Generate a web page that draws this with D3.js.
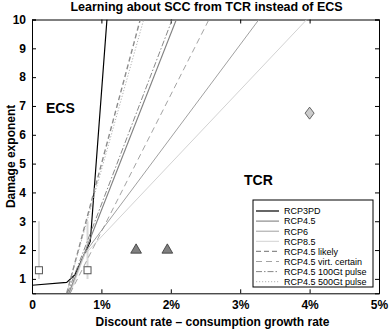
<!DOCTYPE html>
<html>
<head>
<meta charset="utf-8">
<script src="https://cdn.jsdelivr.net/npm/d3@7"></script>
<style>
body { margin: 0; background: #fff; }
text { font-family: "Liberation Sans", Arial, sans-serif; }
</style>
</head>
<body>
<div id="chart"></div>
<script>
// series, x in % (discount rate - growth rate), y = damage exponent
var seriesNames = ["RCP3PD", "RCP4.5", "RCP6", "RCP8.5", "RCP4.5 likely",
                   "RCP4.5 virt. certain", "RCP4.5 100Gt pulse", "RCP4.5 500Gt pulse"];
var seriesX = [
  [0, 0.5, 0.62, 0.84, 1.08],
  [0.53, 2.08],
  [0.54, 0.76, 3.27],
  [0.55, 0.76, 3.96],
  [0.50, 1.56],
  [0.55, 2.55],
  [0.51, 2.02],
  [0.50, 1.61]
];
var seriesY = [
  [0.78, 0.88, 1.15, 2.3, 10],
  [0.5, 10],
  [0.5, 1.9, 10],
  [0.5, 1.85, 10],
  [0.5, 10],
  [0.5, 10],
  [0.5, 10],
  [0.5, 10]
];
var squareX = [0.1, 0.8];
var squareY = [1.3, 1.3];
var barLow = [1.0, 1.0];
var barHigh = [3.0, 3.0];
var triangleX = [1.5, 1.95];
var triangleY = [2.0, 2.0];
var diamondX = [4.0];
var diamondY = [6.75];
var xTicks = [0, 1, 2, 3, 4, 5];
var yTicks = [1, 2, 3, 4, 5, 6, 7, 8, 9, 10];

// line looks
var lineStyles = [
  {color: "#000", width: 1.2, dash: null},
  {color: "#808080", width: 1.1, dash: null},
  {color: "#a0a0a0", width: 1, dash: null},
  {color: "#d2d2d2", width: 1, dash: null},
  {color: "#8c8c8c", width: 1.4, dash: "5,3"},
  {color: "#8c8c8c", width: 0.8, dash: "6,4"},
  {color: "#7a7a7a", width: 0.9, dash: "6,2,1.5,2"},
  {color: "#a8a8a8", width: 0.9, dash: "1.2,1.8"}
];

var chart_width = 389, chart_height = 329;
var plot_left = 32, plot_right = 379, plot_top = 19.5, plot_bottom = 293.3;

var svg = d3.select("#chart")
            .append("svg")
            .attr("width", chart_width)
            .attr("height", chart_height);

var x = d3.scaleLinear().domain([0, 5]).range([plot_left, plot_right]);
var y = d3.scaleLinear().domain([0.5, 10]).range([plot_bottom, plot_top]);

svg.append("defs").append("clipPath").attr("id", "plot")
   .append("rect")
   .attr("x", plot_left).attr("y", plot_top)
   .attr("width", plot_right - plot_left).attr("height", plot_bottom - plot_top);

// axes, ticks inside like matlab
var tickLen = 4;
svg.append("g")
   .attr("transform", "translate(0," + plot_bottom + ")")
   .call(d3.axisBottom(x).tickValues(xTicks).tickSize(-tickLen).tickPadding(7)
           .tickFormat(function(d){ return d === 0 ? "0" : d + "%"; }));
svg.append("g")
   .attr("transform", "translate(0," + plot_top + ")")
   .call(d3.axisTop(x).tickValues(xTicks).tickSize(-tickLen).tickFormat(""));
svg.append("g")
   .attr("transform", "translate(" + plot_left + ",0)")
   .call(d3.axisLeft(y).tickValues(yTicks).tickSize(-tickLen).tickPadding(6));
svg.append("g")
   .attr("transform", "translate(" + plot_right + ",0)")
   .call(d3.axisRight(y).tickValues(yTicks).tickSize(-tickLen).tickFormat(""));

svg.selectAll(".domain").attr("stroke", "#000");
svg.selectAll(".tick line").attr("stroke", "#000");
svg.selectAll(".tick text")
   .attr("font-size", 12)
   .attr("font-weight", "bold")
   .attr("fill", "#000")
   .style("font-family", "'Liberation Sans', Arial, sans-serif");

var plot = svg.append("g").attr("clip-path", "url(#plot)");

// error bars behind the squares
plot.selectAll(".bar")
   .data(squareX)
   .enter()
   .append("line")
   .attr("x1", function(d){ return x(d); })
   .attr("x2", function(d){ return x(d); })
   .attr("y1", function(d, i){ return y(barLow[i]); })
   .attr("y2", function(d, i){ return y(barHigh[i]); })
   .attr("stroke", "#d8d8d8")
   .attr("stroke-width", 2);

var line = d3.line()
             .x(function(d){ return x(d[0]); })
             .y(function(d){ return y(d[1]); });

plot.selectAll(".series")
   .data(seriesNames)
   .enter()
   .append("path")
   .attr("d", function(d, i){ return line(d3.zip(seriesX[i], seriesY[i])); })
   .attr("fill", "none")
   .attr("stroke", function(d, i){ return lineStyles[i].color; })
   .attr("stroke-width", function(d, i){ return lineStyles[i].width; })
   .attr("stroke-dasharray", function(d, i){ return lineStyles[i].dash; });

// markers
plot.selectAll(".square")
   .data(squareX)
   .enter()
   .append("rect")
   .attr("x", function(d){ return x(d) - 3.5; })
   .attr("y", function(d, i){ return y(squareY[i]) - 3.5; })
   .attr("width", 7)
   .attr("height", 7)
   .attr("fill", "#fff")
   .attr("stroke", "#555")
   .attr("stroke-width", 1);

plot.selectAll(".triangle")
   .data(triangleX)
   .enter()
   .append("path")
   .attr("d", d3.symbol().type(d3.symbolTriangle).size(50))
   .attr("transform", function(d, i){ return "translate(" + x(d) + "," + y(triangleY[i]) + ")"; })
   .attr("fill", "#808080")
   .attr("stroke", "#333")
   .attr("stroke-width", 0.8);

plot.selectAll(".diamond")
   .data(diamondX)
   .enter()
   .append("path")
   .attr("d", "M0,-6L4.5,0L0,6L-4.5,0Z")
   .attr("transform", function(d, i){ return "translate(" + x(d) + "," + y(diamondY[i]) + ")"; })
   .attr("fill", "#cccccc")
   .attr("stroke", "#444")
   .attr("stroke-width", 0.8);

// region labels
svg.append("text").text("ECS")
   .attr("x", 46).attr("y", 113)
   .attr("font-size", 14).attr("font-weight", "bold");
svg.append("text").text("TCR")
   .attr("x", 244).attr("y", 185)
   .attr("font-size", 14).attr("font-weight", "bold");

// legend
var legX = 253, legY = 200, legW = 120, legH = 87, rowH = 10.1;
svg.append("rect")
   .attr("x", legX).attr("y", legY)
   .attr("width", legW).attr("height", legH)
   .attr("fill", "#fff").attr("stroke", "#000").attr("stroke-width", 1);

var leg = svg.selectAll(".leg")
   .data(seriesNames)
   .enter()
   .append("g")
   .attr("transform", function(d, i){ return "translate(" + legX + "," + (legY + 11 + i * rowH) + ")"; });
leg.append("line")
   .attr("x1", 3).attr("x2", 26)
   .attr("stroke", function(d, i){ return lineStyles[i].color; })
   .attr("stroke-width", function(d, i){ return lineStyles[i].width; })
   .attr("stroke-dasharray", function(d, i){ return lineStyles[i].dash; });
leg.append("text")
   .text(function(d){ return d; })
   .attr("x", 31).attr("y", 3.3)
   .attr("font-size", 9);

// titles
svg.append("text").text("Learning about SCC from TCR instead of ECS")
   .attr("x", (plot_left + plot_right) / 2 + 1).attr("y", 11)
   .attr("text-anchor", "middle")
   .attr("font-size", 12.5).attr("font-weight", "bold");
svg.append("text").text("Discount rate \u2013 consumption growth rate")
   .attr("x", (plot_left + plot_right) / 2 + 7).attr("y", 326)
   .attr("text-anchor", "middle")
   .attr("font-size", 12).attr("font-weight", "bold");
svg.append("text").text("Damage exponent")
   .attr("transform", "translate(15," + (plot_top + plot_bottom) / 2 + ") rotate(-90)")
   .attr("text-anchor", "middle")
   .attr("font-size", 12).attr("font-weight", "bold");
</script>
</body>
</html>
